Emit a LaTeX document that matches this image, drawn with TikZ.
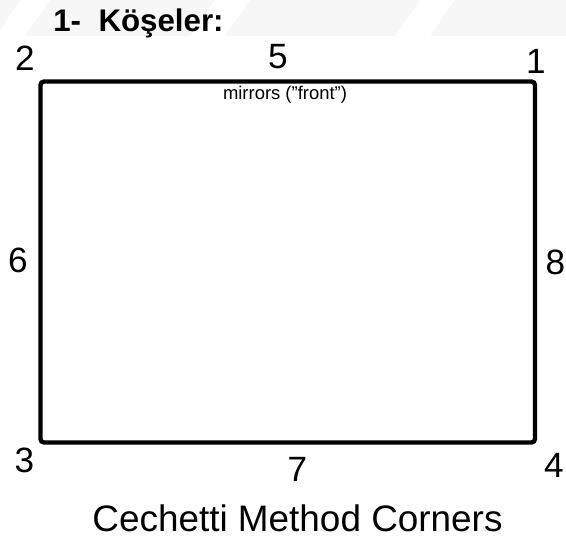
\documentclass[tikz,border=0pt]{standalone}
\usepackage{fontspec}
\setmainfont{Liberation Sans}
\usetikzlibrary{positioning}

\tikzset{
  corner/.style={inner sep=0pt,font=\fontsize{20}{20}\selectfont},
  mark band/.style={fill=gray!6,draw=none},
}

\begin{document}
\begin{tikzpicture}[x=0.02cm,y=-0.02cm]
\useasboundingbox (0,0) rectangle (566,547);

%-------------------Watermark bands-----------------%
\fill[mark band] (0,0) -- (20,0) -- (0,30) -- cycle;
\fill[mark band] (50,0) -- (215,0) -- (190,36) -- (25,36) -- cycle;
\fill[mark band] (250,0) -- (420,0) -- (395,36) -- (225,36) -- cycle;
\fill[mark band] (455,0) -- (566,0) -- (566,36) -- (430,36) -- cycle;
%----------------------------------------------------%

%-------------------Title-----------------%
\node[anchor=base west,inner sep=0pt,font=\bfseries\fontsize{17.8}{17.8}\selectfont] (title) at (53,32) {1-\ \ Köşeler:};

%-------------------Frame-----------------%
\draw[line width=2.5pt,rounded corners=2pt] (40.5,81.5) rectangle (535,442.5);
\node[inner sep=0pt,font=\fontsize{10.5}{10.5}\selectfont] (mirrors) at (285,95) {mirrors (”front”)};

%-------------------Corners-----------------%
\node[corner] (c1) at (536,61.5) {1};
\node[corner] (c2) at (25,58.5) {2};
\node[corner] (c3) at (24.5,460.5) {3};
\node[corner] (c4) at (554,465) {4};
\node[corner] (c5) at (278,56.5) {5};
\node[corner] (c6) at (18,260.5) {6};
\node[corner] (c7) at (297.5,469) {7};
\node[corner] (c8) at (555.5,262) {8};

%-------------------Caption-----------------%
\node[anchor=base,inner sep=0pt,font=\fontsize{21}{21}\selectfont] (caption) at (297.5,532) {Cechetti Method Corners};
\end{tikzpicture}
\end{document}
